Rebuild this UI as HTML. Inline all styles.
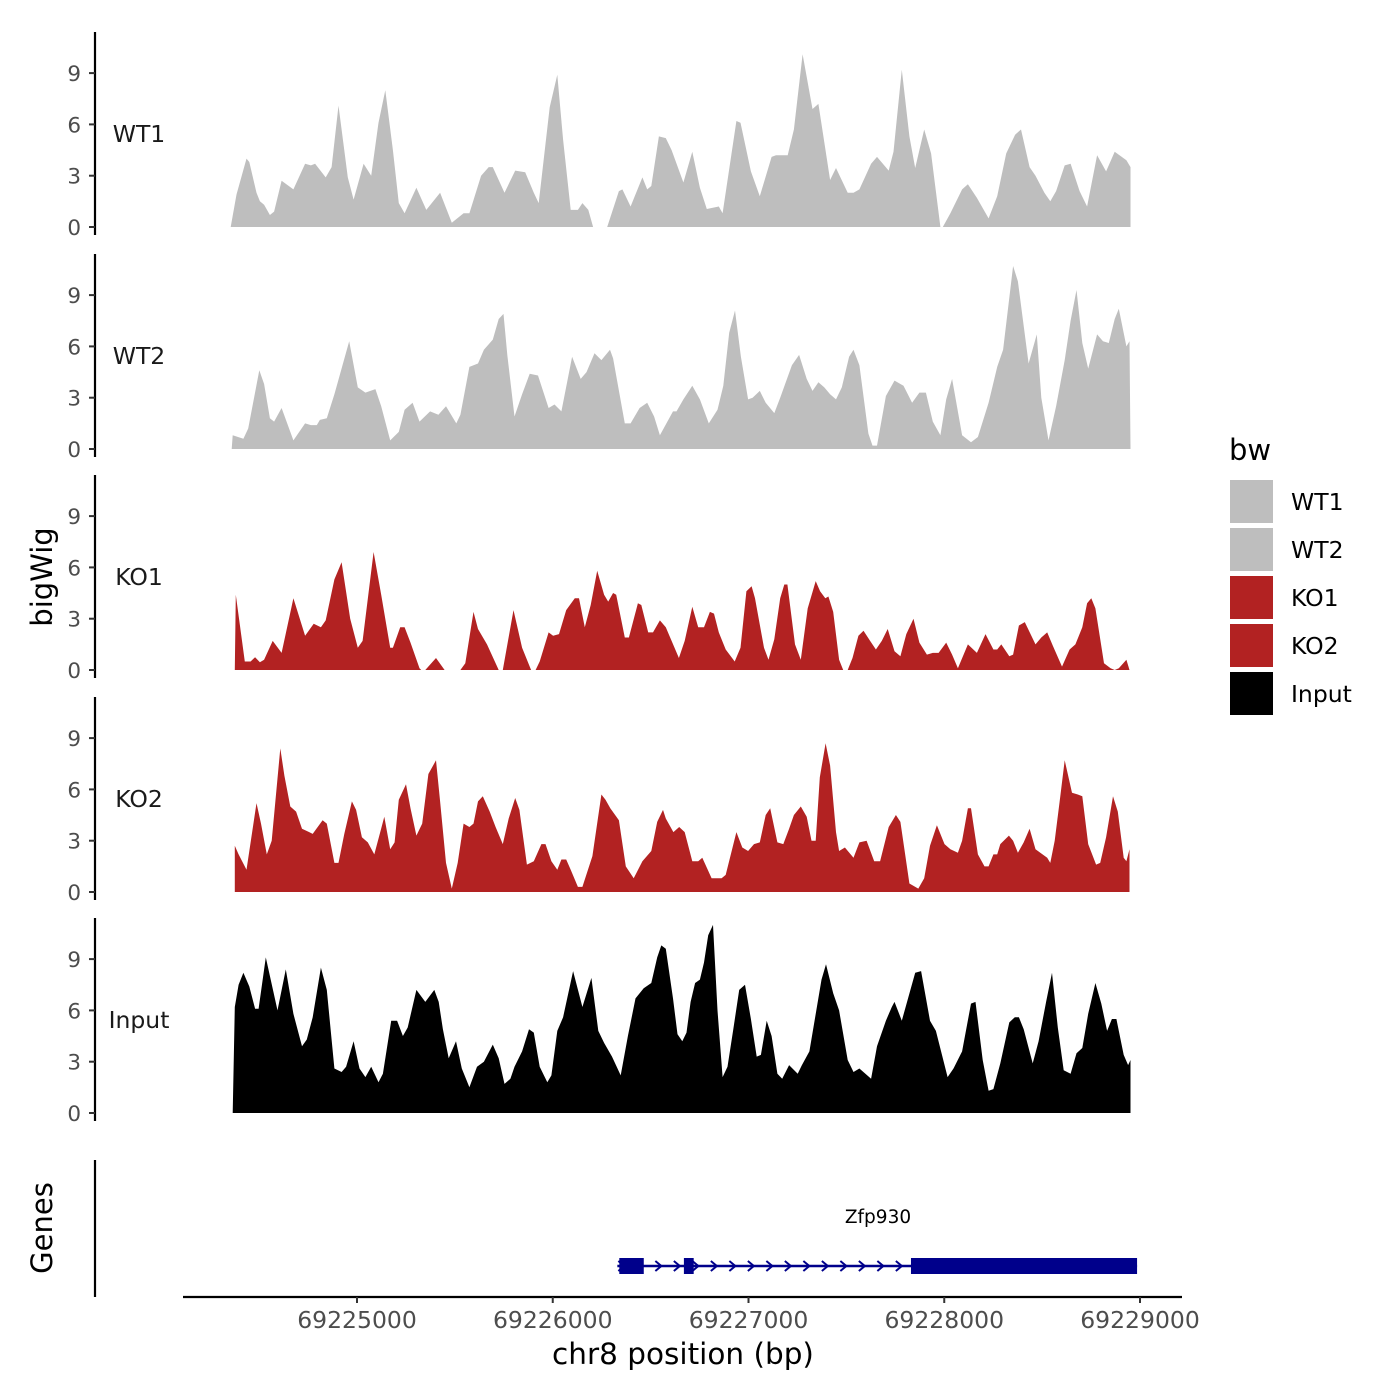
<!DOCTYPE html>
<html><head><meta charset="utf-8">
<style>
html,body{margin:0;padding:0;background:#fff;}
svg{display:block;font-family:"DejaVu Sans","Liberation Sans",sans-serif;}
</style></head>
<body>
<svg id="chart" width="1400" height="1400" viewBox="0 0 1400 1400" xmlns="http://www.w3.org/2000/svg">
<rect width="1400" height="1400" fill="#fff"/>
<g id="tracks"></g>
<g id="axes"></g>
<text x="0" y="0" transform="translate(52,577) rotate(-90)" text-anchor="middle" font-size="29" fill="#000">bigWig</text>
<text x="0" y="0" transform="translate(52,1228) rotate(-90)" text-anchor="middle" font-size="29" fill="#000">Genes</text>
<text x="683" y="1364" text-anchor="middle" font-size="29.5" fill="#000">chr8 position (bp)</text>
<g id="legend">
<text x="1229" y="460" font-size="29" fill="#000">bw</text>
</g>
<g id="genes"></g>
</svg>
<script>
const origin = 69224300;
const posStep = 1.76;
const trackNames = ["WT1","WT2","KO1","KO2","Input"];
const trackColors = ["#bebebe","#bebebe","#b22222","#b22222","#000000"];
const yTicks = [0,3,6,9];
const xTicks = [69225000,69226000,69227000,69228000,69229000];

const wt1Pos = [31,48,77,85,106,116,128,145,157,179,213,247,264,276,307,324,344,371,388,417,439,460,480,502,519,536,570,599,639,673,707,724,758,780,792,826,857,886,911,925,957,979,996,1018,1039,1052,1069,1083,1124,1158,1168,1192,1226,1240,1252,1274,1294,1311,1345,1371,1393,1413,1448,1459,1499,1511,1541,1567,1601,1614,1648,1666,1691,1720,1737,1771,1788,1822,1839,1856,1890,1907,1941,1955,1979,2001,2018,2044,2064,2091,2098,2120,2154,2171,2197,2231,2256,2282,2308,2325,2350,2367,2393,2410,2427,2452,2469,2495,2517,2546,2572,2597,2631,2643];
const wt1Val = [0,1.9,4.0,3.8,2.0,1.5,1.3,0.7,0.9,2.7,2.2,3.7,3.6,3.7,2.9,3.5,7.1,2.9,1.6,3.7,3.0,6.1,8.0,4.5,1.4,0.8,2.3,1.0,2.0,0.25,0.8,0.8,3.0,3.5,3.5,2.0,3.3,3.2,2.0,1.4,7.0,8.9,5.1,1.0,1.0,1.4,1.0,0,0,2.1,2.2,1.2,2.9,2.2,2.4,5.3,5.2,4.5,2.6,4.4,2.3,1.05,1.2,0.8,6.2,6.1,3.25,1.8,4.1,4.2,4.2,5.7,10.1,6.9,7.2,2.75,3.45,2.0,2.0,2.2,3.7,4.1,3.3,4.4,9.2,5.3,3.45,5.7,4.3,0,0,0.8,2.2,2.5,1.7,0.5,1.8,4.3,5.4,5.7,3.5,3.0,2.0,1.5,2.1,3.6,3.7,2.1,1.2,4.2,3.25,4.4,3.9,3.5];

const wt2Pos = [34,37,68,82,114,128,145,157,179,213,247,264,281,290,310,332,375,400,422,451,468,494,519,536,559,579,610,634,656,686,698,724,749,766,792,809,823,834,855,877,899,923,954,971,991,1022,1047,1064,1087,1107,1132,1141,1175,1192,1218,1240,1260,1277,1315,1325,1345,1371,1393,1419,1444,1461,1478,1495,1512,1533,1546,1567,1584,1609,1626,1660,1681,1703,1720,1737,1754,1771,1788,1805,1826,1839,1856,1882,1894,1907,1933,1958,1984,2009,2030,2049,2069,2091,2108,2125,2154,2180,2200,2231,2256,2273,2302,2316,2347,2371,2384,2405,2427,2452,2469,2486,2503,2520,2546,2563,2580,2597,2609,2631,2640,2643];
const wt2Val = [0,0.8,0.6,1.2,4.6,3.8,1.8,1.6,2.4,0.5,1.5,1.4,1.4,1.7,1.8,3.2,6.3,3.6,3.3,3.5,2.5,0.5,1.0,2.3,2.7,1.6,2.2,2.0,2.5,1.5,2.0,4.8,5.0,5.8,6.4,7.6,7.9,5.5,1.9,3.2,4.4,4.3,2.4,2.6,2.2,5.4,4.1,4.5,5.6,5.2,5.8,5.3,1.5,1.5,2.4,2.7,1.9,0.8,2.2,2.2,2.9,3.7,2.9,1.5,2.3,3.7,6.8,8.1,5.4,2.9,3.0,3.4,2.7,2.1,3.0,4.9,5.5,4.1,3.4,3.9,3.6,3.2,2.9,3.6,5.4,5.8,4.9,0.9,0.2,0.2,3.1,4.0,3.7,2.7,3.3,3.3,1.6,0.8,2.9,4.1,0.8,0.4,0.7,2.7,4.8,5.8,10.7,9.8,5.0,6.7,3.0,0.5,2.5,5.2,7.5,9.3,6.2,4.7,6.7,6.3,6.2,7.6,8.2,6.0,6.3,0];

const ko1Pos = [43,46,72,89,102,116,128,153,179,213,247,272,293,307,332,353,378,400,414,446,468,494,502,523,536,553,579,584,596,627,652,698,712,736,749,775,809,821,852,877,903,916,928,954,967,984,1005,1030,1042,1059,1076,1095,1115,1127,1141,1150,1175,1187,1213,1223,1243,1257,1277,1294,1311,1332,1349,1371,1388,1405,1422,1434,1448,1468,1494,1511,1528,1543,1553,1579,1592,1609,1626,1638,1647,1669,1686,1706,1729,1742,1757,1766,1780,1797,1809,1822,1836,1853,1868,1887,1904,1921,1938,1958,1975,1992,2013,2030,2052,2069,2086,2108,2125,2142,2171,2197,2222,2245,2256,2268,2291,2302,2319,2336,2367,2384,2401,2418,2444,2466,2483,2503,2517,2529,2541,2566,2585,2597,2609,2631,2640];
const ko1Val = [0,4.4,0.5,0.5,0.75,0.45,0.6,1.7,1.0,4.2,2.0,2.7,2.5,2.9,5.3,6.3,3.0,1.3,1.7,6.9,4.4,1.3,1.3,2.5,2.5,1.6,0.1,0,0,0.7,0,0,0.4,3.4,2.4,1.5,0,0,3.5,1.3,0,0,0.5,2.2,2.0,2.1,3.5,4.2,4.2,2.5,3.8,5.8,4.4,4.0,4.5,4.4,1.9,1.9,3.9,3.8,2.2,2.2,2.9,2.5,1.7,0.7,1.7,3.7,2.5,2.5,3.4,3.3,2.2,1.2,0.5,1.3,4.6,4.9,4.2,1.3,0.6,1.8,4.2,5.0,5.0,1.5,0.6,3.6,5.2,4.6,4.2,4.3,3.4,0.6,0,0,0.7,2.0,2.3,1.7,1.2,1.7,2.4,1.1,0.8,2.1,3.0,1.6,0.9,1.0,1.0,1.6,0.9,0.1,1.5,1.0,2.1,1.2,1.2,1.5,0.8,0.9,2.6,2.8,1.5,1.9,2.2,1.4,0.2,1.2,1.5,2.5,3.9,4.2,3.6,0.4,0.1,0,0.1,0.6,0];

const ko2Pos = [43,54,77,106,119,136,150,175,187,204,221,238,259,269,298,310,332,344,361,383,395,412,429,448,477,494,507,519,540,553,570,587,605,627,639,656,673,690,707,724,736,749,763,783,800,821,838,857,869,891,911,933,945,962,979,991,1005,1018,1039,1052,1081,1107,1119,1133,1158,1178,1201,1226,1252,1269,1286,1294,1316,1333,1349,1371,1388,1400,1427,1456,1468,1499,1516,1533,1550,1567,1584,1597,1618,1635,1652,1666,1686,1703,1717,1729,1741,1758,1771,1788,1797,1814,1839,1856,1877,1899,1916,1941,1962,1975,2001,2027,2044,2061,2081,2103,2120,2142,2154,2171,2180,2200,2219,2231,2245,2256,2265,2290,2302,2316,2333,2350,2367,2381,2401,2410,2423,2439,2452,2473,2490,2503,2520,2543,2555,2572,2592,2606,2623,2631,2640];
const ko2Val = [2.7,2.2,1.3,5.2,4.0,2.2,3.0,8.4,6.8,5.0,4.7,3.7,3.5,3.4,4.2,4.0,1.7,1.7,3.4,5.3,4.8,3.2,2.9,2.2,4.4,2.5,2.9,5.4,6.3,4.9,3.3,4.0,6.9,7.7,5.3,1.7,0.2,1.7,4.0,3.8,4.0,5.3,5.6,4.7,3.8,2.8,4.3,5.5,4.8,1.6,1.8,2.8,2.8,1.8,1.3,1.9,1.9,1.3,0.3,0.3,2.1,5.7,5.4,4.9,4.2,1.5,0.8,1.8,2.4,4.1,4.8,4.3,3.5,3.8,3.5,1.8,1.8,2.0,0.8,0.8,1.0,3.5,2.6,2.4,2.8,2.9,4.5,4.9,2.9,2.8,3.7,4.5,5.0,4.4,3.0,3.0,6.7,8.7,7.4,3.5,2.4,2.6,2.0,2.9,3.0,1.8,1.8,3.8,4.5,4.1,0.5,0.2,0.8,2.7,3.9,2.8,2.5,2.3,3.0,4.9,4.9,2.2,1.5,1.5,2.2,2.2,2.8,3.3,3.0,2.3,2.9,3.7,2.5,2.3,2.0,1.7,3.0,5.6,7.7,5.8,5.7,5.6,2.8,1.6,1.7,3.2,5.6,4.7,2.0,1.8,2.5];

const inputPos = [37,43,54,68,85,102,112,133,167,191,213,238,252,269,293,310,332,353,366,388,405,422,439,460,473,497,514,531,545,570,596,622,635,647,664,685,702,724,746,766,792,809,826,843,855,877,897,911,928,950,962,979,996,1025,1052,1078,1098,1115,1138,1163,1184,1206,1230,1252,1269,1281,1294,1315,1328,1342,1354,1366,1379,1393,1405,1417,1431,1444,1459,1473,1490,1507,1524,1541,1558,1570,1587,1601,1618,1632,1652,1677,1689,1711,1746,1759,1780,1797,1822,1839,1856,1890,1907,1933,1950,1958,1979,2018,2035,2061,2078,2112,2129,2154,2180,2193,2214,2231,2245,2265,2291,2307,2319,2333,2359,2376,2398,2415,2432,2449,2469,2486,2503,2520,2541,2558,2575,2589,2602,2623,2636,2643];
const inputVal = [0,6.2,7.5,8.2,7.4,6.1,6.1,9.1,6.0,8.4,5.8,3.9,4.3,5.6,8.5,7.2,2.6,2.4,2.7,4.2,2.6,2.1,2.7,1.8,2.3,5.4,5.4,4.5,5.0,7.2,6.5,7.2,6.5,4.9,3.2,4.2,2.6,1.5,2.7,3.0,4.0,3.2,1.7,2.0,2.7,3.6,4.9,4.7,2.7,1.8,2.2,4.8,5.6,8.3,6.2,7.9,4.8,4.1,3.3,2.2,4.5,6.7,7.3,7.6,9.1,9.8,9.6,6.7,4.6,4.2,4.7,6.5,7.6,7.8,8.8,10.4,11.0,6.0,2.1,2.7,4.9,7.2,7.5,5.5,3.3,3.4,5.4,4.5,2.3,2.0,2.8,2.3,2.8,3.6,7.8,8.7,7.0,6.0,3.1,2.4,2.6,2.0,3.9,5.4,6.2,6.5,5.4,8.2,8.3,5.4,4.8,2.1,2.6,3.6,6.4,6.5,3.1,1.3,1.4,2.9,5.3,5.6,5.6,4.9,2.9,4.2,6.5,8.2,5.0,2.5,2.3,3.5,3.8,5.8,7.6,6.4,4.8,5.5,5.5,3.4,2.8,3.1];

const geneStart = 69226330, geneEnd = 69228985;
const exonStarts = [69226340,69226670,69227830];
const exonEnds = [69226465,69226720,69228985];
const geneLabel = "Zfp930";

const trackPos = [wt1Pos,wt2Pos,ko1Pos,ko2Pos,inputPos];
const trackVal = [wt1Val,wt2Val,ko1Val,ko2Val,inputVal];

const zeroY = [227,449,670,892,1113];
function bpOf(p){return origin + p*posStep;}
function xScale(bp){return 357 + (bp-69225000)*0.19575;}
function yScale(t,v){return zeroY[t] - v*17.1;}

const NS="http://www.w3.org/2000/svg";
function mk(tag,attrs,parent){const e=document.createElementNS(NS,tag);for(const k in attrs)e.setAttribute(k,attrs[k]);parent.appendChild(e);return e;}
const tracksG=document.getElementById('tracks');
const axesG=document.getElementById('axes');

for(let t=0;t<5;t++){
  const pos=trackPos[t], val=trackVal[t];
  let d="M"+xScale(bpOf(pos[0])).toFixed(1)+","+zeroY[t];
  for(let i=0;i<pos.length;i++){d+=" L"+xScale(bpOf(pos[i])).toFixed(1)+","+yScale(t,val[i]).toFixed(1);}
  d+=" L"+xScale(bpOf(pos[pos.length-1])).toFixed(1)+","+zeroY[t]+" Z";
  const p=mk('path',{d:d,fill:trackColors[t],stroke:'none'},tracksG);
  
  
  const top=zeroY[t]-195, bot=zeroY[t]+8;
  const ax=mk('line',{x1:95,y1:top,x2:95,y2:bot,stroke:'#000','stroke-width':2.2},axesG);
  
  
  for(const v of yTicks){
    const y=yScale(t,v);
    const tk=mk('line',{x1:89,y1:y,x2:95,y2:y,stroke:'#333','stroke-width':2},axesG);
    
    
    const lb=mk('text',{x:81,y:y+8,'text-anchor':'end','font-size':21.5,fill:'#4d4d4d'},axesG);
    lb.textContent=v;
    
    
  }
  const tl=mk('text',{x:139,y:zeroY[t]-85,'text-anchor':'middle','font-size':23.5,fill:'#1a1a1a'},axesG);
  tl.textContent=trackNames[t];
  
  
}
const gax=mk('line',{x1:95,y1:1160,x2:95,y2:1297,stroke:'#000','stroke-width':2.2},axesG);


const xax=mk('line',{x1:183,y1:1297,x2:1182,y2:1297,stroke:'#000','stroke-width':2.2},axesG);


for(const b of xTicks){
  const x=xScale(b);
  const tk=mk('line',{x1:x,y1:1297,x2:x,y2:1303,stroke:'#333','stroke-width':2},axesG);
  
  
  const lb=mk('text',{x:x,y:1328,'text-anchor':'middle','font-size':23.5,fill:'#4d4d4d'},axesG);
  lb.textContent=b;
  
  
}
const legG=document.getElementById('legend');
for(let i=0;i<5;i++){
  const y=480+i*48;
  const r=mk('rect',{x:1230,y:y,width:43,height:43,fill:trackColors[i]},legG);
  
  
  const tx=mk('text',{x:1291,y:y+30,'font-size':23.5,fill:'#000'},legG);
  tx.textContent=trackNames[i];
  
  
}
const gG=document.getElementById('genes');
const gy=1266;
const gl=mk('line',{x1:xScale(geneStart),y1:gy,x2:xScale(geneEnd),y2:gy,stroke:'#00008b','stroke-width':2.5},gG);


for(let x=xScale(geneStart)+4;x<xScale(exonStarts[2]);x+=18.5){
  const ch=mk('path',{d:`M${x-3},${gy-5} L${x+3},${gy} L${x-3},${gy+5}`,fill:'none',stroke:'#00008b','stroke-width':2},gG);
  
  
}
for(let i=0;i<exonStarts.length;i++){
  const x1=xScale(exonStarts[i]),x2=xScale(exonEnds[i]);
  const r=mk('rect',{x:x1,y:gy-8,width:x2-x1,height:16,fill:'#00008b'},gG);
  
  
}
const gt=mk('text',{x:878,y:1223,'text-anchor':'middle','font-size':18.5,fill:'#000'},gG);
gt.textContent=geneLabel;


</script>
</body></html>
